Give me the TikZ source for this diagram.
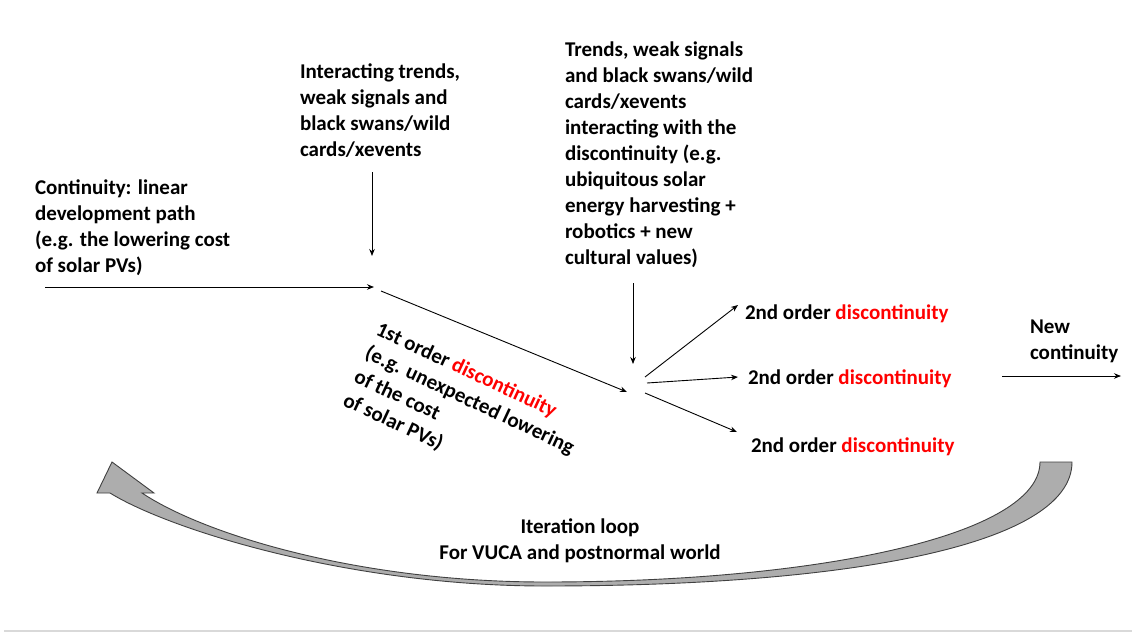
\documentclass[tikz,border=0pt]{standalone}
\usepackage{fontspec}
\setmainfont{Carlito}
\usetikzlibrary{arrows.meta}
\begin{document}
\begin{tikzpicture}[x=1pt,y=-1pt,
  txt/.style={inner sep=0pt,outer sep=0pt,align=left,font=\fontsize{21}{26}\selectfont\bfseries},
  conn/.style={line width=0.9pt,-{Stealth[length=7pt,width=5.5pt]}},
  loop/.style={fill=black!32,draw=black!75,line width=0.9pt,line join=miter}]
\useasboundingbox (0,0) rectangle (1132,632);
\fill[white] (0,0) rectangle (1132,632);
% texts
\node[txt,anchor=north west] (cont) at (35,180) {Continuity: linear\\development path\\(e.g. the lowering cost\\of solar PVs)};
\node[txt,anchor=north west] (inter) at (300,64) {Interacting trends,\\weak signals and\\black swans/wild\\cards/xevents};
\node[txt,anchor=north west] (trends) at (565,42) {Trends, weak signals\\and black swans/wild\\cards/xevents\\interacting with the\\discontinuity (e.g.\\ubiquitous solar\\energy harvesting +\\robotics + new\\cultural values)};
\node[txt,anchor=north west,rotate=-25] (first) at (381,321) {1st order \textcolor{red}{discontinuity}\\(e.g. unexpected lowering\\of the cost\\of solar PVs)};
\node[txt,anchor=base west] (sec1) at (745,319) {2nd order \textcolor{red}{discontinuity}};
\node[txt,anchor=base west] (sec2) at (748,384) {2nd order \textcolor{red}{discontinuity}};
\node[txt,anchor=base west] (sec3) at (751,452) {2nd order \textcolor{red}{discontinuity}};
\node[txt,anchor=north west] (newc) at (1030,320) {New\\continuity};
\node[txt,align=center,anchor=north] (iter) at (580,519) {Iteration loop\\For VUCA and postnormal world};
% coordinates
\coordinate (c0) at (45,287);
\coordinate (j1) at (374,287);
\coordinate (v1a) at (372,172);
\coordinate (v1b) at (372,256);
\coordinate (d0) at (381,291);
\coordinate (d1) at (627,392);
\coordinate (v2a) at (633,283);
\coordinate (v2b) at (633,364);
\coordinate (s1a) at (645,377);
\coordinate (s1b) at (738,305);
\coordinate (s2a) at (647,383);
\coordinate (s2b) at (738,377);
\coordinate (s3a) at (645,393);
\coordinate (s3b) at (737,432);
\coordinate (n0) at (1002,376);
\coordinate (n1) at (1121,376);
% connectors
\draw[conn] (c0) -- (j1);
\draw[conn] (v1a) -- (v1b);
\draw[conn] (d0) -- (d1);
\draw[conn] (v2a) -- (v2b);
\draw[conn] (s1a) -- (s1b);
\draw[conn] (s2a) -- (s2b);
\draw[conn] (s3a) -- (s3b);
\draw[conn] (n0) -- (n1);
% iteration loop arrow
\draw[loop] (1072,462) .. controls (1072,545) and (850,586) .. (545,586)
  .. controls (350,586) and (170,530) .. (110,493)
  -- (97,493) -- (112,462) -- (154,493) -- (142,493)
  .. controls (205,535) and (360,582) .. (545,582)
  .. controls (820,582) and (1040,535) .. (1040,462) -- cycle;
% bottom rule
\draw[black!15,line width=1.2pt] (4,631) -- (1132,631);
\end{tikzpicture}
\end{document}
